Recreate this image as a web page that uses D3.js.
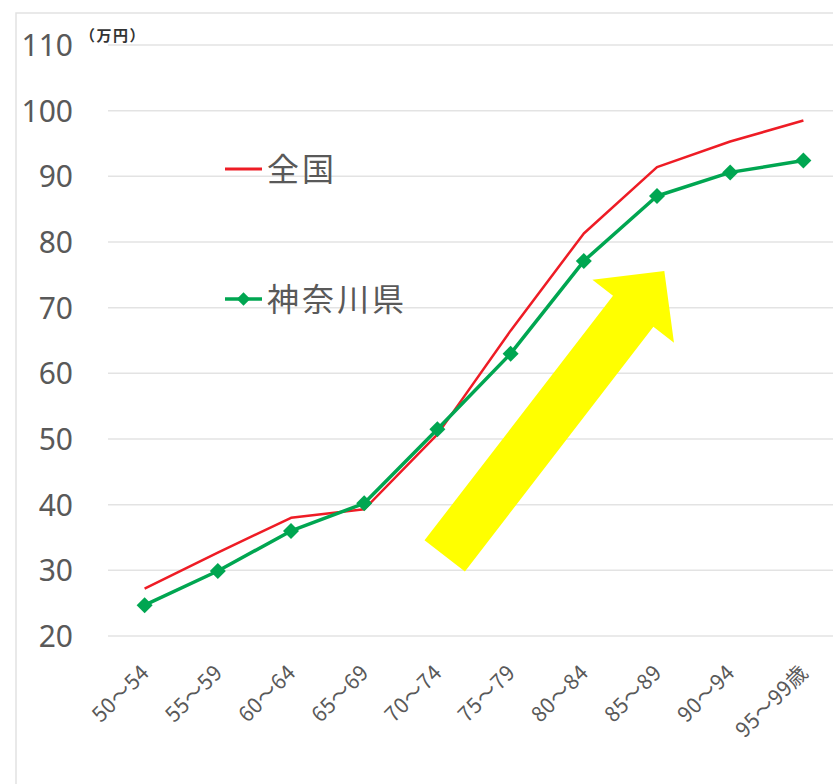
<!DOCTYPE html>
<html>
<head>
<meta charset="utf-8">
<script src="https://cdn.jsdelivr.net/npm/d3@7"></script>
<style>
  html, body { margin: 0; padding: 0; background: #fff; }
  svg { display: block; }
</style>
</head>
<body>
<svg id="chart" width="833" height="784"></svg>
<script>
// Age groups (x axis)
const categories = ["50～54", "55～59", "60～64", "65～69", "70～74",
                    "75～79", "80～84", "85～89", "90～94", "95～99歳"];
// Values in 万円
const nationalValues = [27.2, 32.7, 38.0, 39.3, 50.7, 66.5, 81.3, 91.4, 95.3, 98.5];
const kanagawaValues = [24.7, 29.9, 36.0, 40.2, 51.5, 63.0, 77.1, 87.0, 90.6, 92.4];
const seriesNames = ["全国", "神奈川県"];
const yTicks = [20, 30, 40, 50, 60, 70, 80, 90, 100, 110];
const unitLabel = "（万円）";

const svg = d3.select("#chart");
const W = 833, H = 784;
const textGray = "#595959";
const redColor = "#ee1c25";
const greenColor = "#00a651";
const latin = "'Noto Sans', 'Noto Sans CJK JP', sans-serif";
const cjk = "'Noto Sans CJK JP', 'Noto Sans', sans-serif";

// Plot area
const plot = { left: 108, top: 45, bottom: 636 };
const x = d3.scaleBand().domain(categories).range([plot.left, plot.left + 73.2 * categories.length]).padding(0);
const cx = c => x(c) + x.bandwidth() / 2;
const y = d3.scaleLinear().domain([20, 110]).range([plot.bottom, plot.top]);

// Outer frame (only top and left edges fall inside the view)
svg.append("path")
  .attr("d", `M16,${H} L16,13 L${W},13`)
  .attr("fill", "none").attr("stroke", "#e2e2e2").attr("stroke-width", 1.5);

// Horizontal gridlines
svg.append("g").selectAll("line").data(yTicks).join("line")
  .attr("x1", plot.left).attr("x2", W)
  .attr("y1", d => y(d)).attr("y2", d => y(d))
  .attr("stroke", "#e3e3e3").attr("stroke-width", 1.5);

// Y axis labels
const yAxis = d3.axisLeft(y).tickValues(yTicks).tickSize(0).tickPadding(0);
const yg = svg.append("g").attr("transform", "translate(73,0)").call(yAxis);
yg.select(".domain").remove();
yg.selectAll("text")
  .attr("font-family", latin).attr("font-size", 30).attr("fill", textGray)
  .attr("dy", "0.35em");

// Unit label
svg.append("text").attr("x", 80).attr("y", 41)
  .attr("font-family", cjk).attr("font-size", 15).attr("font-weight", "bold")
  .attr("letter-spacing", 1.5).attr("fill", "#333").text(unitLabel);

// X axis labels (rotated)
svg.append("g").selectAll("text").data(categories).join("text")
  .attr("transform", d => `translate(${cx(d) + 6},674) rotate(-45)`)
  .attr("text-anchor", "end")
  .attr("font-family", cjk).attr("font-size", 21).attr("letter-spacing", 0.5)
  .attr("fill", textGray)
  .text(d => d);

// Yellow arrow annotation, placed in data space
const arrowFrom = { i: 4.1, v: 32.2 };
const arrowTo = { i: 7.1, v: 75.6 };
const xi = i => cx(categories[0]) + i * x.bandwidth();
(function drawArrow() {
  const x0 = xi(arrowFrom.i), y0 = y(arrowFrom.v);
  const x1 = xi(arrowTo.i), y1 = y(arrowTo.v);
  const len = Math.hypot(x1 - x0, y1 - y0);
  const ux = (x1 - x0) / len, uy = (y1 - y0) / len;
  const px = -uy, py = ux;
  const shaftHalf = 25.5, headHalf = 51.5, headLen = 51;
  const bx = x1 - ux * headLen, by = y1 - uy * headLen;
  const pts = [
    [x0 + px * shaftHalf, y0 + py * shaftHalf],
    [bx + px * shaftHalf, by + py * shaftHalf],
    [bx + px * headHalf, by + py * headHalf],
    [x1, y1],
    [bx - px * headHalf, by - py * headHalf],
    [bx - px * shaftHalf, by - py * shaftHalf],
    [x0 - px * shaftHalf, y0 - py * shaftHalf]
  ];
  svg.append("polygon").attr("points", pts.map(p => p.join(",")).join(" "))
    .attr("fill", "#ffff00");
})();

const line = d3.line().x((d, i) => cx(categories[i])).y(d => y(d));

// National line
svg.append("path").datum(nationalValues).attr("d", line)
  .attr("fill", "none").attr("stroke", redColor).attr("stroke-width", 2.5)
  .attr("stroke-linejoin", "round");

// Kanagawa line with diamond markers
svg.append("path").datum(kanagawaValues).attr("d", line)
  .attr("fill", "none").attr("stroke", greenColor).attr("stroke-width", 3.5)
  .attr("stroke-linejoin", "round");
const diamond = d3.symbol().type(d3.symbolSquare).size(128);
svg.append("g").selectAll("path").data(kanagawaValues).join("path")
  .attr("d", diamond)
  .attr("transform", (d, i) => `translate(${cx(categories[i])},${y(d)}) rotate(45)`)
  .attr("fill", greenColor);

// Legend
const legend = svg.append("g");
legend.append("line").attr("x1", 225).attr("x2", 262).attr("y1", 169).attr("y2", 169)
  .attr("stroke", redColor).attr("stroke-width", 3);
legend.append("text").attr("x", 267).attr("y", 169).attr("dy", "0.36em")
  .attr("font-family", cjk).attr("font-size", 32).attr("letter-spacing", 3)
  .attr("fill", textGray).text(seriesNames[0]);
legend.append("line").attr("x1", 225).attr("x2", 262).attr("y1", 299).attr("y2", 299)
  .attr("stroke", greenColor).attr("stroke-width", 3.5);
legend.append("path").attr("d", d3.symbol().type(d3.symbolSquare).size(90))
  .attr("transform", "translate(243.5,299) rotate(45)").attr("fill", greenColor);
legend.append("text").attr("x", 267).attr("y", 299).attr("dy", "0.36em")
  .attr("font-family", cjk).attr("font-size", 32).attr("letter-spacing", 3)
  .attr("fill", textGray).text(seriesNames[1]);
</script>
</body>
</html>
